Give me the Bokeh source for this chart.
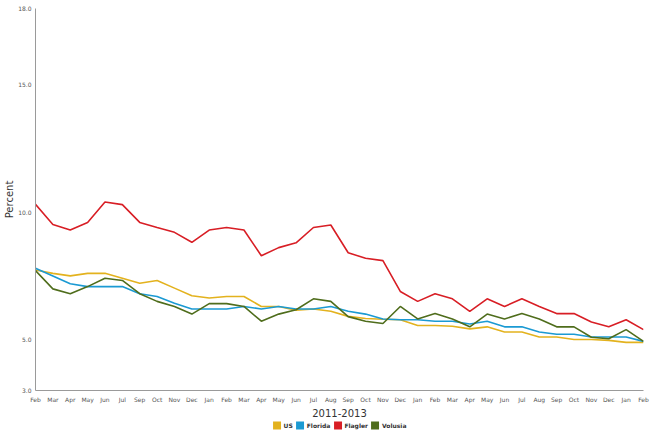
from bokeh.plotting import figure
from bokeh.layouts import column
from bokeh.models import Range1d, FixedTicker, Legend, LegendItem, NumeralTickFormatter
from bokeh.embed import file_html
from bokeh.resources import INLINE

months = ["Feb", "Mar", "Apr", "May", "Jun", "Jul", "Sep", "Oct", "Nov", "Dec",
          "Jan", "Feb", "Mar", "Apr", "May", "Jun", "Jul", "Aug", "Sep", "Oct", "Nov", "Dec",
          "Jan", "Feb", "Mar", "Apr", "May", "Jun", "Jul", "Aug", "Sep", "Oct", "Nov", "Dec",
          "Jan", "Feb"]

us = [7.73, 7.60, 7.50, 7.60, 7.60, 7.41, 7.21, 7.32, 7.02, 6.72,
      6.63, 6.69, 6.69, 6.30, 6.30, 6.15, 6.20, 6.11, 5.91, 5.83, 5.80, 5.78,
      5.55, 5.55, 5.52, 5.42, 5.50, 5.30, 5.30, 5.10, 5.10, 5.00, 5.00, 4.97,
      4.89, 4.89]
florida = [7.80, 7.50, 7.19, 7.08, 7.08, 7.08, 6.80, 6.69, 6.43, 6.20,
           6.20, 6.20, 6.30, 6.20, 6.30, 6.20, 6.20, 6.30, 6.11, 6.00, 5.81, 5.78,
           5.78, 5.72, 5.72, 5.61, 5.72, 5.50, 5.50, 5.30, 5.21, 5.21, 5.10, 5.10,
           5.10, 4.93]
flagler = [10.31, 9.52, 9.30, 9.60, 10.40, 10.30, 9.60, 9.40, 9.21, 8.82,
           9.30, 9.40, 9.30, 8.29, 8.61, 8.80, 9.40, 9.50, 8.41, 8.19, 8.10, 6.89,
           6.50, 6.80, 6.60, 6.11, 6.60, 6.30, 6.60, 6.30, 6.02, 6.02, 5.69, 5.50,
           5.78, 5.39]
volusia = [7.71, 6.99, 6.80, 7.08, 7.41, 7.32, 6.80, 6.50, 6.30, 6.00,
           6.41, 6.41, 6.30, 5.72, 6.00, 6.17, 6.60, 6.50, 5.90, 5.72, 5.63, 6.30,
           5.81, 6.02, 5.81, 5.50, 6.00, 5.81, 6.02, 5.81, 5.50, 5.50, 5.09, 5.03,
           5.39, 4.93]

series_names = ["US", "Florida", "Flagler", "Volusia"]
series_values = [us, florida, flagler, volusia]
colors = ["#E3B21E", "#1B9AD3", "#D81E25", "#4F6D1C"]
y_ticks = [3, 5, 10, 15, 18]

xs = list(range(len(months)))
FONT = "DejaVu Sans"

p = figure(width=650, height=419, output_backend="svg", toolbar_location=None,
           x_range=Range1d(0, len(months) - 1), y_range=Range1d(3, 18),
           min_border_left=35, min_border_right=7, min_border_top=8, min_border_bottom=27)
p.outline_line_color = None
p.xgrid.grid_line_color = None
p.ygrid.grid_line_color = None
p.background_fill_color = "white"
p.border_fill_color = "white"

for ax in (p.xaxis[0], p.yaxis[0]):
    ax.axis_line_color = "#9a9a9a"
    ax.axis_line_width = 1
    ax.major_tick_line_color = None
    ax.minor_tick_line_color = None
    ax.major_tick_out = 0
    ax.major_tick_in = 0
    ax.major_label_text_font = FONT
    ax.major_label_text_font_size = "6px"
    ax.major_label_text_color = "#555555"
    ax.axis_label_text_font = FONT
    ax.axis_label_text_font_style = "normal"
    ax.axis_label_text_font_size = "10px"
    ax.axis_label_text_color = "#333333"

p.xaxis.ticker = FixedTicker(ticks=xs)
p.xaxis.major_label_overrides = {i: m for i, m in enumerate(months)}
p.xaxis.major_label_standoff = 5
p.xaxis.axis_label = "2011-2013"
p.xaxis.axis_label_standoff = 3

p.yaxis.ticker = FixedTicker(ticks=y_ticks)
p.yaxis.formatter = NumeralTickFormatter(format="0.0")
p.yaxis.major_label_standoff = 4
p.yaxis.axis_label = "Percent"
p.yaxis.axis_label_standoff = 0

for name, vals, col in zip(series_names, series_values, colors):
    p.line(xs, vals, line_color=col, line_width=1.6)

# legend strip below the chart
lg = figure(width=650, height=12, output_backend="svg", toolbar_location=None,
            x_axis_type=None, y_axis_type=None,
            x_range=Range1d(0, 1), y_range=Range1d(0, 1),
            min_border_left=35, min_border_right=7, min_border_top=0, min_border_bottom=0)
lg.outline_line_color = None
lg.xgrid.grid_line_color = None
lg.ygrid.grid_line_color = None
lg.background_fill_color = "white"
lg.border_fill_color = "white"

items = []
for name, col in zip(series_names, colors):
    # swatch glyph kept outside the visible range; only its legend square shows
    sq = lg.quad(left=[5], right=[6], top=[6], bottom=[5], fill_color=col, line_color=None)
    items.append(LegendItem(label=name, renderers=[sq]))

legend = Legend(items=items, orientation="horizontal", location="center",
                glyph_width=10, glyph_height=10, label_standoff=2, spacing=2,
                padding=0, margin=0, border_line_color=None, background_fill_alpha=0,
                label_text_font=FONT, label_text_font_size="6px",
                label_text_font_style="bold", label_text_color="#333333",
                label_height=10, label_width=1)
lg.add_layout(legend, "center")

layout = column(p, lg, spacing=0)
open("out.html", "w").write(file_html(layout, INLINE))
